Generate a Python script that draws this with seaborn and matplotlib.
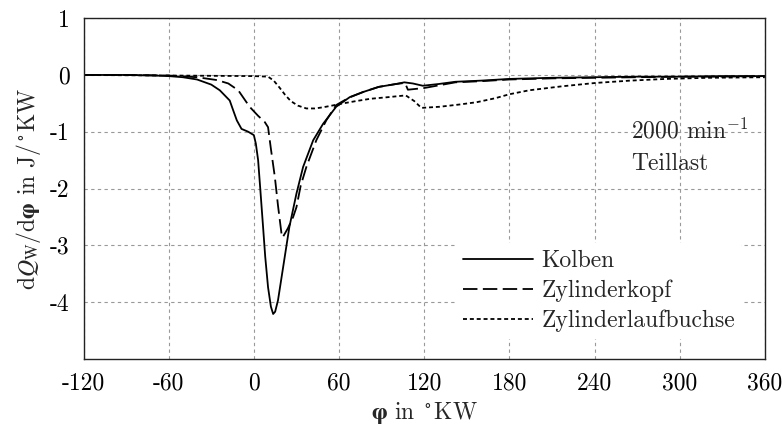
import matplotlib
matplotlib.use("Agg")
import matplotlib.pyplot as plt
import seaborn as sns
import pandas as pd

# ---- data ----
kolben_x = [-120, -90, -70, -60, -50, -40, -30, -24, -17, -14.6, -12, -8.7, -4, 0, 1.4, 3, 4.5,
            6.5, 8, 10, 12, 13.6, 15, 17, 20.6, 25, 30, 34.7, 41.8, 48.8, 58, 67.6, 77, 88,
            100, 106, 112, 119, 130, 142, 160, 180, 210, 240, 270, 300, 330, 360]
kolben_y = [0, 0, -0.01, -0.02, -0.04, -0.08, -0.17, -0.27, -0.45, -0.62, -0.8, -0.95, -1.0,
            -1.06, -1.21, -1.5, -2.0, -2.68, -3.2, -3.74, -4.08, -4.21, -4.17, -3.97, -3.39,
            -2.68, -2.09, -1.62, -1.15, -0.86, -0.56, -0.39, -0.3, -0.21, -0.16, -0.13, -0.15,
            -0.19, -0.16, -0.12, -0.1, -0.07, -0.05, -0.04, -0.03, -0.03, -0.02, -0.02]

kopf_x = [-120, -90, -60, -40, -26, -18, -11, -3, 3, 7.7, 10, 12, 14.8, 17, 19.5, 20.3, 24,
          27.7, 30, 33, 37, 44, 51, 58, 67, 77, 88, 100, 106.5, 108.5, 120, 142, 160, 180,
          210, 240, 270, 300, 330, 360]
kopf_y = [0, 0, -0.01, -0.04, -0.09, -0.15, -0.27, -0.56, -0.72, -0.83, -0.92, -1.3, -1.8,
          -2.3, -2.8, -2.86, -2.7, -2.5, -2.33, -1.95, -1.62, -1.15, -0.8, -0.53, -0.4, -0.3,
          -0.21, -0.16, -0.14, -0.26, -0.23, -0.13, -0.11, -0.08, -0.06, -0.05, -0.04, -0.03,
          -0.03, -0.02]

buchse_x = [-120, -60, 0, 10, 14, 18, 22, 26, 31, 37, 43, 48.6, 55, 63, 72, 82, 95, 107, 113,
            118, 131, 145, 157, 170, 180, 194, 217, 241, 265, 290, 320, 360]
buchse_y = [0, -0.01, -0.02, -0.03, -0.1, -0.22, -0.35, -0.46, -0.54, -0.59, -0.59, -0.57,
            -0.54, -0.5, -0.46, -0.42, -0.39, -0.36, -0.46, -0.58, -0.56, -0.52, -0.48, -0.41,
            -0.34, -0.27, -0.2, -0.14, -0.1, -0.07, -0.05, -0.04]

labels = ["Kolben", "Zylinderkopf", "Zylinderlaufbuchse"]
x_ticks = [-120, -60, 0, 60, 120, 180, 240, 300, 360]
y_ticks = [1, 0, -1, -2, -3, -4]

# ---- style ----
sns.set_style("white")
plt.rcParams["font.family"] = ["cmr10", "DejaVu Serif"]
plt.rcParams["mathtext.fontset"] = "cm"
plt.rcParams["axes.unicode_minus"] = False
plt.rcParams["axes.formatter.use_mathtext"] = True

fig = plt.figure(figsize=(7.82, 4.36), dpi=100)
ax = fig.add_axes([0.1068, 0.177, 0.8713, 0.7813])

styles = ["-", (0, (8, 3)), (0, (2.2, 1.6))]
series = [(kolben_x, kolben_y), (kopf_x, kopf_y), (buchse_x, buchse_y)]
for (xs, ys), lab, ls in zip(series, labels, styles):
    df = pd.DataFrame({"x": xs, "y": ys})
    sns.lineplot(data=df, x="x", y="y", ax=ax, color="black", linewidth=1.3,
                 linestyle=ls, label=lab, sort=False)

ax.set_xlim(-120, 360)
ax.set_ylim(-5, 1)
ax.set_xticks(x_ticks)
ax.set_xticklabels([str(t) for t in x_ticks])
ax.set_yticks(y_ticks)
ax.set_yticklabels([str(t) for t in y_ticks])
ax.tick_params(axis="both", labelsize=17, direction="in", length=5, width=0.8,
               colors="black", pad=10)
ax.tick_params(axis="y", length=0)
ax.grid(True, color="#999999", linestyle=(0, (3, 3)), linewidth=0.8)
for s in ax.spines.values():
    s.set_color("#222222")
    s.set_linewidth(1.0)

ax.set_xlabel(r"$\boldsymbol{\varphi}$ in $^\circ$KW", fontsize=17, labelpad=4,
              math_fontfamily="stix")
ax.set_ylabel(r"d$Q_\mathrm{W}$/d$\boldsymbol{\varphi}$ in J/$^\circ$KW", fontsize=17,
              labelpad=5, math_fontfamily="stix")

ax.text(266, -0.98, r"2000 min$^{\mathrm{-1}}$", fontsize=17, va="center", ha="left")
ax.text(266, -1.56, "Teillast", fontsize=17, va="center", ha="left")

leg = ax.legend(loc="lower right", bbox_to_anchor=(0.967, 0.057), fontsize=17,
                frameon=True, facecolor="white", edgecolor="none", framealpha=1,
                handlelength=3.0, handletextpad=0.35, borderaxespad=0.0,
                labelspacing=0.32, borderpad=0.3)

fig.savefig("out.png", dpi=100)
